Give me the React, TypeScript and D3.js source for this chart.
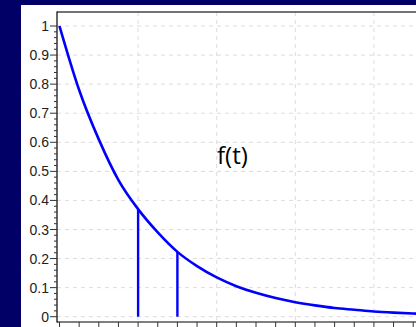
import { useEffect, useRef } from "react";
import * as d3 from "d3";

// values
const tValues = [0, 0.25, 0.5, 0.75, 1, 1.25, 1.5, 1.75, 2, 2.25, 2.5, 2.75, 3, 3.25, 3.5, 3.75, 4, 4.25, 4.5, 4.75, 5];
const fValues = [1, 0.78, 0.61, 0.47, 0.37, 0.29, 0.223, 0.174, 0.135, 0.105, 0.082, 0.064, 0.05, 0.039, 0.03, 0.024, 0.018, 0.014, 0.011, 0.009, 0.007];
const markerT = [1, 1.5];
const markerF = [0.368, 0.223];
const yTickLabels = ["0", "0.1", "0.2", "0.3", "0.4", "0.5", "0.6", "0.7", "0.8", "0.9", "1"];
const curveLabel = "f(t)";

const W = 416;
const H = 327;

export default function App() {
  const ref = useRef<SVGSVGElement>(null);

  useEffect(() => {
    const svg = d3.select(ref.current);
    svg.selectAll("*").remove();

    const axisX = 57;
    const axisY = 322;
    const x = d3.scaleLinear().domain([0, 5]).range([59.5, 59.5 + 5 * 78.6]);
    const y = d3.scaleLinear().domain([0, 1]).range([316.7, 26]);

    // background
    svg.append("rect").attr("width", W).attr("height", H).attr("fill", "#000066");
    svg.append("rect").attr("x", 21).attr("y", 5).attr("width", W - 21).attr("height", H - 5).attr("fill", "#fff");

    // grid
    const grid = svg.append("g").attr("stroke", "#dcdcdc").attr("stroke-dasharray", "4,4").attr("stroke-width", 1);
    yTickLabels.forEach((_, i) => {
      const v = i / 10;
      grid.append("line").attr("x1", axisX).attr("x2", W).attr("y1", y(v)).attr("y2", y(v));
    });
    d3.range(1, 5).forEach(t => {
      grid.append("line").attr("x1", x(t)).attr("x2", x(t)).attr("y1", 12).attr("y2", axisY);
    });

    // axes frame
    svg.append("line").attr("x1", axisX).attr("x2", W).attr("y1", 12).attr("y2", 12)
      .attr("stroke", "#444").attr("stroke-width", 1.5);
    svg.append("line").attr("x1", axisX).attr("x2", axisX).attr("y1", 11.5).attr("y2", axisY + 0.5)
      .attr("stroke", "#000").attr("stroke-width", 1.2);
    svg.append("line").attr("x1", axisX).attr("x2", W).attr("y1", axisY).attr("y2", axisY)
      .attr("stroke", "#000").attr("stroke-width", 1.2);

    // y ticks
    const ticks = svg.append("g").attr("stroke", "#333").attr("stroke-width", 1);
    d3.range(0, 51).forEach(i => {
      const v = i / 50;
      const major = i % 5 === 0;
      ticks.append("line").attr("x1", axisX - (major ? 7 : 3)).attr("x2", axisX)
        .attr("y1", y(v)).attr("y2", y(v));
    });
    d3.range(0, 21).forEach(i => {
      const t = i / 4;
      ticks.append("line").attr("x1", x(t)).attr("x2", x(t)).attr("y1", axisY).attr("y2", axisY + 5);
    });

    svg.append("g").selectAll("text").data(yTickLabels).join("text")
      .attr("x", 49).attr("y", (_, i) => y(i / 10)).attr("dy", "0.36em")
      .attr("text-anchor", "end").attr("font-family", "Liberation Sans, Arial, sans-serif")
      .attr("font-size", 14).attr("fill", "#222").text(d => d);

    // curve
    const pts = tValues.map((t, i) => [t, fValues[i]] as [number, number]);
    const line = d3.line<[number, number]>().x(d => x(d[0])).y(d => y(d[1])).curve(d3.curveMonotoneX);
    svg.append("path").attr("d", line(pts)).attr("fill", "none").attr("stroke", "#0000ff").attr("stroke-width", 2.6);

    markerT.forEach((t, i) => {
      svg.append("line").attr("x1", x(t)).attr("x2", x(t)).attr("y1", y(0)).attr("y2", y(markerF[i]))
        .attr("stroke", "#0000ff").attr("stroke-width", 2.4);
    });

    svg.append("text").attr("x", 217).attr("y", 164)
      .attr("font-family", "Open Sans, Noto Sans, sans-serif").attr("font-size", 24).attr("font-weight", 500)
      .attr("fill", "#000").text(curveLabel);
  }, []);

  return (
    <div style={{ position: "fixed", left: 0, top: 0 }}>
      <svg ref={ref} width={W} height={H} style={{ display: "block" }} />
    </div>
  );
}
